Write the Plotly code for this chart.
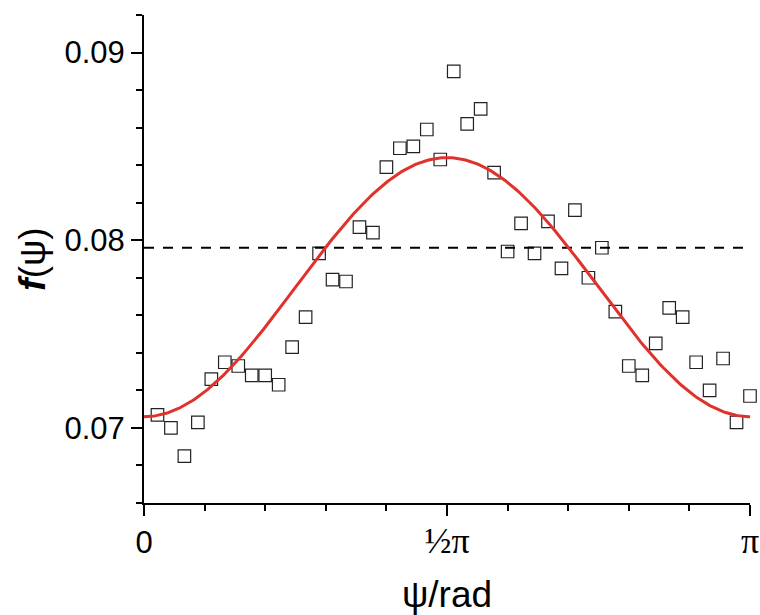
import numpy as np
import plotly.graph_objects as go

# ---- data ----
psi_deg = [4, 8, 12, 16, 20, 24, 28, 32, 36, 40, 44, 48, 52, 56, 60,
           64, 68, 72, 76, 80, 84, 88, 92, 96, 100, 104, 108, 112, 116, 120,
           124, 128, 132, 136, 140, 144, 148, 152, 156, 160, 164, 168, 172, 176, 180]
f_meas = [0.0707, 0.0700, 0.0685, 0.0703, 0.0726, 0.0735, 0.0733, 0.0728, 0.0728, 0.0723,
          0.0743, 0.0759, 0.0793, 0.0779, 0.0778, 0.0807, 0.0804, 0.0839, 0.0849, 0.0850,
          0.0859, 0.0843, 0.0890, 0.0862, 0.0870, 0.0836, 0.0794, 0.0809, 0.0793, 0.0810,
          0.0785, 0.0816, 0.0780, 0.0796, 0.0762, 0.0733, 0.0728, 0.0745, 0.0764, 0.0759,
          0.0735, 0.0720, 0.0737, 0.0703, 0.0717]

# fitted model f = A + B sin^2(psi)
fit_A = 0.0706
fit_B = 0.0138
uniform_level = 0.0796  # 1/(4*pi)

x_tickvals = [0, np.pi / 2, np.pi]
x_ticktext = ["0",
              "<span style='font-family:Liberation Serif;font-size:36px'>½π</span>",
              "<span style='font-family:Liberation Serif;font-size:36px'>π</span>"]
y_tickvals = [0.07, 0.08, 0.09]
y_ticktext = ["0.07", "0.08", "0.09"]

# ---- figure ----
psi = np.radians(psi_deg)
psi_fit = np.linspace(0, np.pi, 300)
f_fit = fit_A + fit_B * np.sin(psi_fit) ** 2

fig = go.Figure()
fig.add_trace(go.Scatter(
    x=psi, y=f_meas, mode="markers", cliponaxis=False,
    marker=dict(symbol="square-open", size=12.5, color="#222222", line=dict(width=1.2)),
    showlegend=False))
fig.add_trace(go.Scatter(
    x=[0, np.pi], y=[uniform_level, uniform_level], mode="lines",
    line=dict(color="black", width=2.2, dash="10px,9px"), showlegend=False))
fig.add_trace(go.Scatter(
    x=psi_fit, y=f_fit, mode="lines",
    line=dict(color="#e0322c", width=3), showlegend=False))

axis_common = dict(
    showgrid=False, zeroline=False, showline=True, linecolor="black", linewidth=2,
    ticks="outside", tickcolor="black", tickwidth=2, ticklen=11,
    tickfont=dict(family="Liberation Sans", size=31, color="black"),
)

fig.update_xaxes(
    range=[0, np.pi], tickmode="array", tickvals=x_tickvals, ticktext=x_ticktext,
    minor=dict(ticks="outside", tick0=0, dtick=np.pi / 10, ticklen=6, tickwidth=2, tickcolor="black"),
    title=dict(text="ψ/rad", font=dict(family="Liberation Sans", size=37, color="black"), standoff=26),
    **axis_common)
fig.update_yaxes(
    range=[0.066, 0.092], tickmode="array", tickvals=y_tickvals, ticktext=y_ticktext,
    minor=dict(ticks="outside", tick0=0.066, dtick=0.002, ticklen=6, tickwidth=2, tickcolor="black"),
    title=dict(text="<b><i>f</i></b>(ψ)", font=dict(family="Liberation Sans", size=37, color="black"), standoff=8),
    **axis_common)

fig.update_layout(
    width=760, height=615,
    margin=dict(l=144, r=10, t=15, b=112, autoexpand=False),
    plot_bgcolor="white", paper_bgcolor="white",
)

fig.write_html("out.html")
